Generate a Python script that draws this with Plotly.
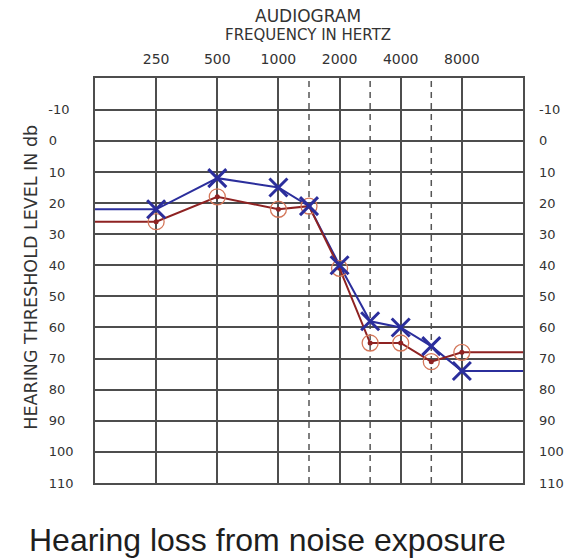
import plotly.graph_objects as go

# ---- data ----
freq_labels = ["250", "500", "1000", "2000", "4000", "8000"]
octave_pos = [1, 2, 3, 4, 5, 6]            # octave index of labelled frequencies
half_octave_pos = [3.5, 4.5, 5.5]         # 1500, 3000, 6000 Hz (dashed lines)
test_freqs = [250, 500, 1000, 1500, 2000, 3000, 4000, 6000, 8000]
test_pos = [1, 2, 3, 3.5, 4, 4.5, 5, 5.5, 6]
left_x = [22, 12, 15, 21, 40, 58, 60, 66, 74]     # blue X
right_o = [26, 18, 22, 21, 41, 65, 65, 71, 68]    # red O
db_ticks = list(range(-10, 111, 10))
x_range = [0, 7]
y_range = [110, -20.2]

NB = "\u00a0"
# right-side labels: plain text (left aligned by plotly)
db_labels_right = [str(v) for v in db_ticks]
# left-side labels: padded with no-break spaces so they look left aligned
db_labels_left = [s + NB if s.startswith("-") else s + NB * (2 * (3 - len(s)))
                  for s in db_labels_right]

GRID = "#4d4d4d"
BLUE = "#2b2e9c"
RED = "#8e2222"
RING = "#d4775a"
TXT = "#333333"

fig = go.Figure()

# extended lines (flat to the frame on both sides)
ext_x = [x_range[0]] + test_pos + [x_range[1]]
fig.add_trace(go.Scatter(x=ext_x, y=[left_x[0]] + left_x + [left_x[-1]], mode="lines",
                         line=dict(color=BLUE, width=2), hoverinfo="skip", showlegend=False))
fig.add_trace(go.Scatter(x=ext_x, y=[right_o[0]] + right_o + [right_o[-1]], mode="lines",
                         line=dict(color=RED, width=2), hoverinfo="skip", showlegend=False))
fig.add_trace(go.Scatter(x=test_pos, y=right_o, mode="markers",
                         marker=dict(symbol="circle-open", size=16, color=RING, line=dict(color=RING, width=1.3)),
                         text=[str(f) for f in test_freqs], showlegend=False))
fig.add_trace(go.Scatter(x=test_pos, y=right_o, mode="markers",
                         marker=dict(symbol="circle", size=5, color=RED),
                         hoverinfo="skip", showlegend=False))
fig.add_trace(go.Scatter(x=test_pos, y=left_x, mode="markers",
                         marker=dict(symbol="x-thin", size=18, color=BLUE, line=dict(color=BLUE, width=3)),
                         text=[str(f) for f in test_freqs], showlegend=False))
# invisible trace to carry right-hand axis
fig.add_trace(go.Scatter(x=[x_range[0]], y=[db_ticks[0]], yaxis="y2", mode="markers",
                         marker=dict(opacity=0), hoverinfo="skip", showlegend=False))

for hp in half_octave_pos:
    fig.add_shape(type="line", xref="x", yref="paper", x0=hp, x1=hp, y0=0, y1=1,
                  line=dict(color="#555555", width=1.5, dash="6px,5px"), layer="below")

ytickfont = dict(family="DejaVu Sans", size=13, color=TXT)
xtickfont = dict(family="DejaVu Sans", size=14, color=TXT)
fig.update_layout(
    width=576, height=560,
    margin=dict(l=95, r=45, t=78, b=77),
    paper_bgcolor="white", plot_bgcolor="white",
    xaxis=dict(range=x_range, tickvals=octave_pos, ticktext=freq_labels, side="top",
               showgrid=True, gridcolor=GRID, gridwidth=1.5, zeroline=False,
               showline=True, linecolor=GRID, linewidth=1.5, mirror=True,
               ticks="", ticklabelstandoff=7, tickfont=xtickfont),
    yaxis=dict(range=y_range, tickvals=db_ticks, ticktext=db_labels_left, showgrid=True, gridcolor=GRID,
               gridwidth=1.5, zeroline=False, showline=True, linecolor=GRID, linewidth=1.5, mirror=True,
               ticks="", ticklabelstandoff=17, tickfont=ytickfont),
    yaxis2=dict(range=y_range, tickvals=db_ticks, ticktext=db_labels_right, overlaying="y", side="right",
                showgrid=False, zeroline=False, showline=False, ticks="", ticklabelstandoff=15,
                tickfont=ytickfont),
    annotations=[
        dict(text="AUDIOGRAM", xref="paper", yref="paper", x=0.497, y=(483 - 16) / 405, showarrow=False,
             xanchor="center", yanchor="middle", font=dict(family="DejaVu Sans", size=17, color=TXT)),
        dict(text="FREQUENCY IN HERTZ", xref="paper", yref="paper", x=0.497, y=(483 - 35) / 405,
             showarrow=False, xanchor="center", yanchor="middle",
             font=dict(family="DejaVu Sans", size=15, color=TXT)),
        dict(text="HEARING THRESHOLD LEVEL IN db", xref="paper", yref="paper", x=(29.5 - 95) / 436,
             y=(483 - 277) / 405, textangle=-90, showarrow=False, xanchor="center", yanchor="middle",
             font=dict(family="DejaVu Sans", size=17.5, color=TXT)),
        dict(text="Hearing loss from noise exposure", xref="paper", yref="paper", x=(271 - 95) / 436,
             y=(483 - 539.5) / 405, showarrow=False, xanchor="center", yanchor="middle",
             font=dict(family="Liberation Sans", size=32, color="#1e1e1e")),
    ],
)

fig.write_html("out.html", config={"displayModeBar": False},
               post_script="document.body.style.margin='0px';")
